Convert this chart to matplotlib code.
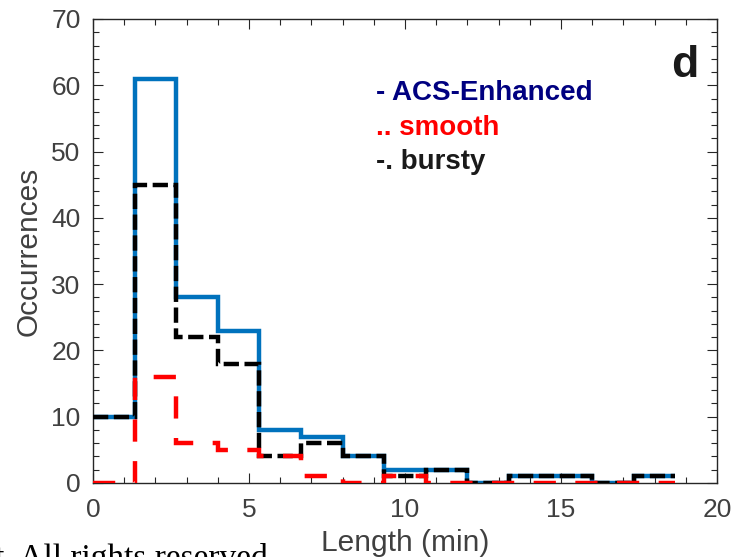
import numpy as np
import matplotlib
matplotlib.use("Agg")
import matplotlib.pyplot as plt
from matplotlib.ticker import MultipleLocator

plt.rcParams['font.family'] = ['Liberation Sans', 'DejaVu Sans']
plt.rcParams['lines.scale_dashes'] = False

# Data (bin width 80 s = 4/3 min)
bin_edges = [0, 4/3, 8/3, 4, 16/3, 20/3, 8, 28/3, 32/3, 12, 40/3, 44/3, 16, 52/3, 56/3]
acs_enhanced = [10, 61, 28, 23, 8, 7, 4, 2, 2, 0, 1, 1, 0, 1]
bursty = [10, 45, 22, 18, 4, 6, 4, 1, 2, 0, 1, 1, 0, 1]
smooth = [0, 16, 6, 5, 4, 1, 0, 1, 0, 0, 0, 0, 0, 0]
x_ticks = [0, 5, 10, 15, 20]
y_ticks = [0, 10, 20, 30, 40, 50, 60, 70]

fig = plt.figure(figsize=(7.34, 5.57), dpi=100)
ax = fig.add_axes([93/734, 74/557, 624/734, 464/557])

ax.stairs(acs_enhanced, bin_edges, baseline=None, color='#0072BD', lw=3.2, zorder=2)
ax.stairs(bursty, bin_edges, baseline=None, color='black', lw=3.2,
          linestyle=(0, (11, 4)), zorder=3)
ax.stairs(smooth, bin_edges, baseline=None, color='#FF0000', lw=3.2,
          linestyle=(0, (16, 14)), zorder=4)

ax.set_xlim(0, 20)
ax.set_ylim(0, 70)
ax.set_xticks(x_ticks)
ax.set_yticks(y_ticks)
ax.xaxis.set_minor_locator(MultipleLocator(1))
ax.yaxis.set_minor_locator(MultipleLocator(2))
ax.tick_params(which='both', direction='in', top=True, right=True,
               colors='#262626', labelcolor='#404040', labelsize=19, width=0.8)
ax.tick_params(which='major', length=7)
ax.tick_params(which='minor', length=4)
ax.tick_params(axis='x', which='major', pad=11)
ax.tick_params(axis='y', which='major', pad=9)
for s in ax.spines.values():
    s.set_color('#262626')
    s.set_linewidth(1.0)

ax.set_xlabel('Length (min)', fontsize=21.5, color='#404040', labelpad=5)
ax.set_ylabel('Occurrences', fontsize=21.5, color='#404040', labelpad=6)

ax.text(0.453, 0.840, '- ACS-Enhanced', transform=ax.transAxes, fontsize=20,
        fontweight='bold', color='#000080', va='center', ha='left')
ax.text(0.453, 0.766, '.. smooth', transform=ax.transAxes, fontsize=20,
        fontweight='bold', color='#FF0000', va='center', ha='left')
ax.text(0.453, 0.691, '-. bursty', transform=ax.transAxes, fontsize=20,
        fontweight='bold', color='#1a1a1a', va='center', ha='left')
ax.text(0.970, 0.900, 'd', transform=ax.transAxes, fontsize=32,
        fontweight='bold', color='#1a1a1a', va='center', ha='right')

fig.text(268/734, -10/557, 't. All rights reserved', fontsize=24,
         family='Liberation Serif', color='black', ha='right', va='baseline')

fig.savefig('out.png', dpi=100)
